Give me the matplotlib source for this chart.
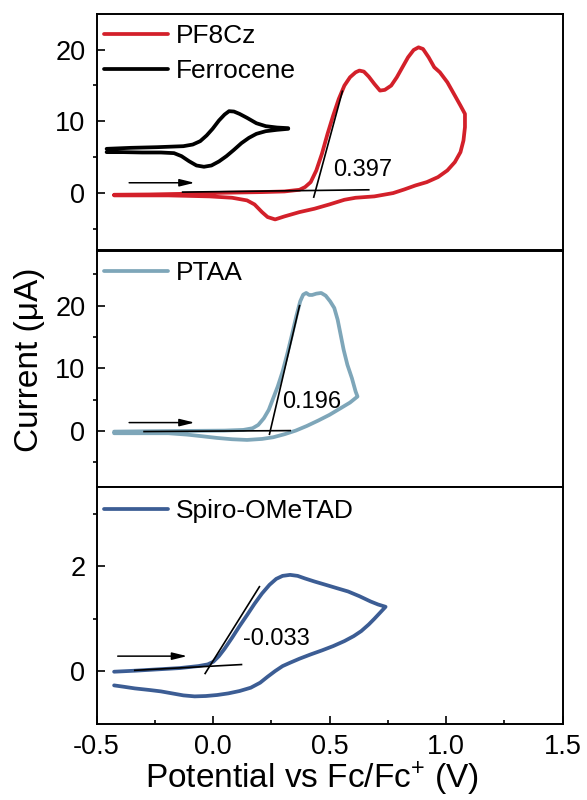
import matplotlib
matplotlib.use("Agg")
import matplotlib.pyplot as plt

plt.rcParams['font.family'] = ['Liberation Sans', 'DejaVu Sans']
plt.rcParams['mathtext.fontset'] = 'custom'
plt.rcParams['mathtext.rm'] = 'Liberation Sans'
plt.rcParams['mathtext.it'] = 'Liberation Sans:italic'
plt.rcParams['mathtext.bf'] = 'Liberation Sans:bold'
plt.rcParams['axes.unicode_minus'] = False

# ---------------- data ----------------
# PF8Cz CV loop (potential V, current uA): forward scan then reverse scan
pf8cz_x = [-0.4245, -0.2719, -0.1112, 0.0494, 0.2100, 0.3064, 0.3707, 0.3948, 0.4189, 0.4430,
           0.4671, 0.4912, 0.5153, 0.5394, 0.5635, 0.5876, 0.6116, 0.6277, 0.6470, 0.6679,
           0.6920, 0.7161, 0.7369, 0.7643, 0.7884, 0.8124, 0.8365, 0.8606, 0.8815, 0.9008,
           0.9249, 0.9490, 0.9731, 1.0052, 1.0373, 1.0614, 1.0807,
           1.0807, 1.0743, 1.0614, 1.0373, 1.0052, 0.9651, 0.9169, 0.8687, 0.8205, 0.7723,
           0.6920, 0.6116, 0.5635, 0.4992, 0.4349, 0.3707, 0.3064, 0.2663, 0.2341, 0.2100,
           0.1779, 0.1458, 0.0815, -0.0149, -0.1916, -0.4245]
pf8cz_y = [-0.23, -0.19, -0.09, 0.05, 0.14, 0.23, 0.46, 0.84, 1.53, 3.16,
           5.48, 8.26, 10.81, 13.13, 14.99, 16.15, 16.84, 17.08, 16.94, 16.24,
           15.22, 14.29, 14.39, 14.99, 16.15, 17.54, 18.93, 19.95, 20.32, 20.09,
           18.93, 17.54, 16.84, 15.45, 13.60, 12.20, 11.04,
           9.19, 7.33, 5.71, 4.32, 3.16, 2.23, 1.53, 1.07, 0.51, 0.0,
           -0.46, -0.65, -0.93, -1.58, -2.18, -2.65, -3.25, -3.67, -3.34, -2.65,
           -1.58, -1.02, -0.65, -0.46, -0.32, -0.32]

# Ferrocene reference loop (drawn offset inside the top panel)
fc_x = [-0.4566, -0.3522, -0.2398, -0.1273, -0.0871, -0.0550, -0.0277, -0.0020, 0.0253,
        0.0494, 0.0687, 0.0896, 0.1137, 0.1458, 0.1859, 0.2261, 0.2743, 0.3225,
        0.3225, 0.2743, 0.2261, 0.1859, 0.1538, 0.1217, 0.0896, 0.0574, 0.0253, -0.0068,
        -0.0390, -0.0711, -0.1032, -0.1353, -0.1675, -0.2237, -0.3040, -0.3843, -0.4566]
fc_y = [6.17, 6.31, 6.40, 6.54, 6.77, 7.24, 8.03, 8.96, 10.12,
        10.95, 11.42, 11.37, 11.04, 10.49, 9.74, 9.33, 9.14, 9.05,
        8.96, 8.82, 8.63, 8.26, 7.70, 6.96, 6.03, 5.15, 4.41, 3.85,
        3.67, 3.85, 4.45, 5.15, 5.57, 5.66, 5.66, 5.71, 5.71]

# PTAA CV loop
ptaa_x = [-0.4245, -0.2719, -0.1112, 0.0494, 0.1297, 0.1699, 0.1940, 0.2181, 0.2390, 0.2582,
          0.2775, 0.2984, 0.3193, 0.3386, 0.3578, 0.3739, 0.3867, 0.3996, 0.4124, 0.4253,
          0.4430, 0.4639, 0.4831, 0.5024, 0.5201, 0.5345, 0.5474, 0.5602, 0.5763, 0.5956,
          0.6116, 0.6197,
          0.5876, 0.5474, 0.4992, 0.4510, 0.4028, 0.3546, 0.3064, 0.2582, 0.2100, 0.1458,
          0.0815, 0.0173, -0.0470, -0.1112, -0.1916, -0.2719, -0.4245]
ptaa_y = [-0.11, -0.05, 0.0, 0.05, 0.16, 0.43, 0.96, 2.03, 3.36, 5.23,
          7.09, 9.49, 12.43, 15.36, 18.40, 20.69, 21.76, 22.03, 21.71, 21.71,
          21.92, 22.03, 21.60, 20.69, 19.63, 17.76, 15.36, 12.96, 10.56, 8.43,
          6.29, 5.49,
          4.53, 3.63, 2.56, 1.65, 0.80, 0.05, -0.53, -1.01, -1.28, -1.44,
          -1.33, -1.12, -0.85, -0.59, -0.37, -0.37, -0.37]

# Spiro-OMeTAD CV loop
spiro_x = [-0.4245, -0.3361, -0.2398, -0.1434, -0.0631, -0.0229, 0.0012, 0.0253, 0.0494, 0.0815,
           0.1137, 0.1458, 0.1779, 0.2100, 0.2422, 0.2711, 0.2984, 0.3305, 0.3627, 0.3948,
           0.4349, 0.4831, 0.5313, 0.5795, 0.6277, 0.6759, 0.7080, 0.7402,
           0.7161, 0.6920, 0.6679, 0.6357, 0.6036, 0.5635, 0.5153, 0.4671, 0.4189, 0.3707,
           0.3305, 0.2984, 0.2663, 0.2341, 0.2020, 0.1618, 0.1137, 0.0655, 0.0173, -0.0309,
           -0.0791, -0.1273, -0.1755, -0.2237, -0.2719, -0.3361, -0.3843, -0.4245]
spiro_y = [-0.006, 0.013, 0.038, 0.063, 0.101, 0.133, 0.184, 0.291, 0.430, 0.639,
           0.861, 1.070, 1.285, 1.481, 1.646, 1.759, 1.816, 1.835, 1.816, 1.766,
           1.709, 1.646, 1.582, 1.519, 1.430, 1.329, 1.272, 1.228,
           1.114, 1.000, 0.892, 0.766, 0.671, 0.576, 0.481, 0.399, 0.323, 0.241,
           0.165, 0.101, 0.006, -0.101, -0.215, -0.310, -0.373, -0.418, -0.449, -0.468,
           -0.475, -0.456, -0.418, -0.380, -0.354, -0.323, -0.291, -0.266]

# onset construction lines: (x0, y0, x1, y1)
pf8cz_base = (-0.1305, 0.14, 0.668, 0.46)
pf8cz_tan = (0.432, -0.56, 0.555, 14.2)
ptaa_base = (-0.296, -0.1, 0.331, 0.05)
ptaa_tan = (0.242, -0.53, 0.371, 20.0)
spiro_base = (-0.336, 0.02, 0.122, 0.13)
spiro_tan = (-0.034, -0.04, 0.199, 1.61)

# scan-direction arrows: (x0, x1, y)
pf8cz_arrow = (-0.360, -0.079, 1.44)
ptaa_arrow = (-0.360, -0.079, 1.33)
spiro_arrow = (-0.409, -0.111, 0.29)

onset_labels = ["0.397", "0.196", "-0.033"]
onset_pos = [(0.515, 3.16), (0.298, 4.6), (0.130, 0.61)]

colors = {"PF8Cz": "#d3202a", "Ferrocene": "#000000", "PTAA": "#7ea6b9", "Spiro-OMeTAD": "#3c5d94"}

# ---------------- figure ----------------
fig = plt.figure(figsize=(5.87, 8.0), dpi=100)
left, width = 0.1644, 0.7942
h = 0.2959
bottoms = [0.6869, 0.3909, 0.095]
axes = [fig.add_axes([left, b, width, h]) for b in bottoms]

lw = 2.7
tick_fs = 19.5

def style(ax, ylim, major, minor, show_x):
    ax.set_xlim(-0.5, 1.5)
    ax.set_ylim(*ylim)
    ax.set_yticks(major)
    ax.set_yticks(minor, minor=True)
    ax.set_xticks([-0.5, 0.0, 0.5, 1.0, 1.5])
    ax.set_xticks([-0.25, 0.25, 0.75, 1.25], minor=True)
    ax.tick_params(axis='y', which='major', direction='in', length=6, width=1.2,
                   labelsize=tick_fs, pad=8)
    ax.tick_params(axis='y', which='minor', direction='out', length=3, width=1.2)
    ax.tick_params(axis='x', which='major', direction='in', length=6, width=1.2,
                   labelsize=tick_fs, pad=7)
    ax.tick_params(axis='x', which='minor', direction='in', length=3, width=1.2)
    ax.tick_params(axis='x', which='both', bottom=show_x, labelbottom=show_x)
    for s in ax.spines.values():
        s.set_linewidth(1.4)

def seg(ax, s):
    ax.plot([s[0], s[2]], [s[1], s[3]], color='black', lw=1.2, zorder=4)

def arrow(ax, a):
    ax.annotate("", xy=(a[1], a[2]), xytext=(a[0], a[2]),
                arrowprops=dict(arrowstyle='-|>,head_length=0.9,head_width=0.22',
                                color='black', lw=1.1, shrinkA=0, shrinkB=0))

leg_kw = dict(loc='upper left', frameon=False, fontsize=19, handlelength=2.42,
              handletextpad=0.3, borderpad=0, borderaxespad=0, labelspacing=0.4)

line_kw = dict(lw=lw, solid_joinstyle='round', solid_capstyle='round')

# Panel 1
ax = axes[0]
ax.plot(pf8cz_x, pf8cz_y, color=colors["PF8Cz"], label="PF8Cz", **line_kw)
ax.plot(fc_x, fc_y, color=colors["Ferrocene"], label="Ferrocene", **line_kw)
seg(ax, pf8cz_base); seg(ax, pf8cz_tan); arrow(ax, pf8cz_arrow)
ax.text(onset_pos[0][0], onset_pos[0][1], onset_labels[0], fontsize=17, ha='left', va='center')
style(ax, (-8, 25), [0, 10, 20], [-5, 5, 15], False)
ax.legend(bbox_to_anchor=(0.016, 0.955), **leg_kw)

# Panel 2
ax = axes[1]
ax.plot(ptaa_x, ptaa_y, color=colors["PTAA"], label="PTAA", **line_kw)
seg(ax, ptaa_base); seg(ax, ptaa_tan); arrow(ax, ptaa_arrow)
ax.text(onset_pos[1][0], onset_pos[1][1], onset_labels[1], fontsize=17, ha='left', va='center')
style(ax, (-9, 28.8), [0, 10, 20], [-5, 5, 15, 25], False)
ax.legend(bbox_to_anchor=(0.016, 0.955), **leg_kw)
ax.set_ylabel("Current (μA)", fontsize=24, labelpad=7)
ax.yaxis.label.set_y(0.54)

# Panel 3
ax = axes[2]
ax.plot(spiro_x, spiro_y, color=colors["Spiro-OMeTAD"], label="Spiro-OMeTAD", **line_kw)
seg(ax, spiro_base); seg(ax, spiro_tan); arrow(ax, spiro_arrow)
ax.text(onset_pos[2][0], onset_pos[2][1], onset_labels[2], fontsize=17, ha='left', va='center')
style(ax, (-1, 3.5), [0, 2], [1, 3], True)
ax.legend(bbox_to_anchor=(0.016, 0.95), **leg_kw)
ax.set_xlabel("Potential vs Fc/Fc$^{+}$ (V)", fontsize=24, labelpad=0)
ax.xaxis.label.set_x(0.462)

fig.savefig("out.png", dpi=100)
